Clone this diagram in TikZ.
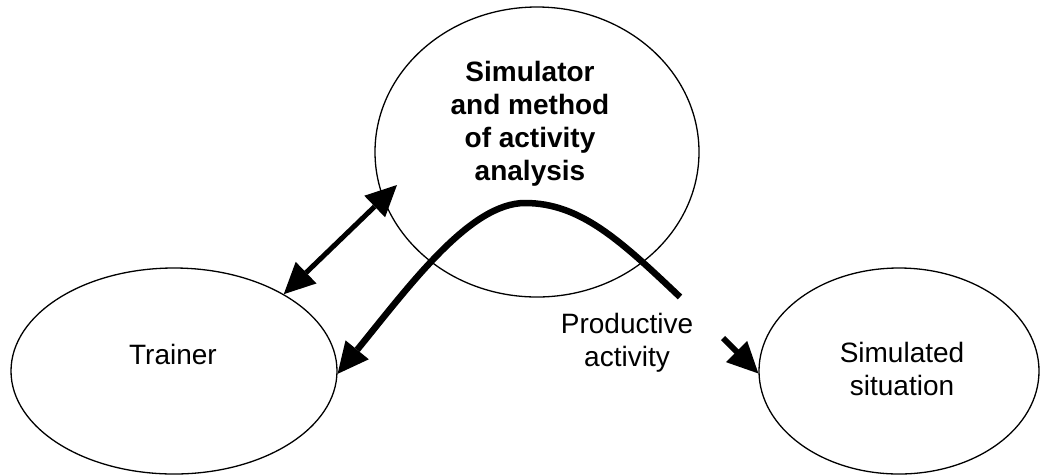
\documentclass[tikz,border=0pt]{standalone}
\usepackage{fontspec}
\setmainfont{Liberation Sans}
\usetikzlibrary{shapes.geometric,arrows.meta}
\begin{document}
\begin{tikzpicture}[x=1pt,y=-1pt,
  ell/.style={draw, ellipse, line width=1.3pt, inner sep=0pt},
  lbl/.style={font=\fontsize{28}{33}\selectfont, align=center, inner sep=0pt},
  onetip/.style={-{Triangle[length=31pt,width=30pt,line width=0pt]}},
  twotips/.style={{Triangle[length=31pt,width=30pt,line width=0pt]}-{Triangle[length=31pt,width=30pt,line width=0pt]}},
  ]
\useasboundingbox (0,0) rectangle (1040,475);
% ellipses
\node[ell, minimum width=324pt, minimum height=290pt] (simmethod) at (537,152) {};
\node[ell, minimum width=326pt, minimum height=206pt] (trainer) at (174,371) {};
\node[ell, minimum width=280pt, minimum height=206pt] (situation) at (899,371) {};
% texts
\node[lbl, font=\fontsize{28}{33}\selectfont\bfseries] (simtext) at (530,124) {Simulator\\and method\\of activity\\analysis};
\node[lbl] (trainertext) at (173,354) {Trainer};
\node[lbl] (situationtext) at (902,369) {Simulated\\situation};
\node[lbl] (prod) at (627,343) {Productive\\activity};
% connectors
\coordinate (uptip) at (397,185);
\coordinate (gapA) at (680,297);
\coordinate (gapB) at (723,338);
\draw[line width=5pt, twotips] (trainer.35) -- (uptip);
\draw[line width=6.5pt, onetip] (gapA) .. controls (620,240) and (580,203) .. (525,203)
  .. controls (470,203) and (410,285) .. (trainer.-1.5);
\draw[line width=6pt, onetip] (gapB) .. controls (740,355) .. (situation.181);
\end{tikzpicture}
\end{document}
